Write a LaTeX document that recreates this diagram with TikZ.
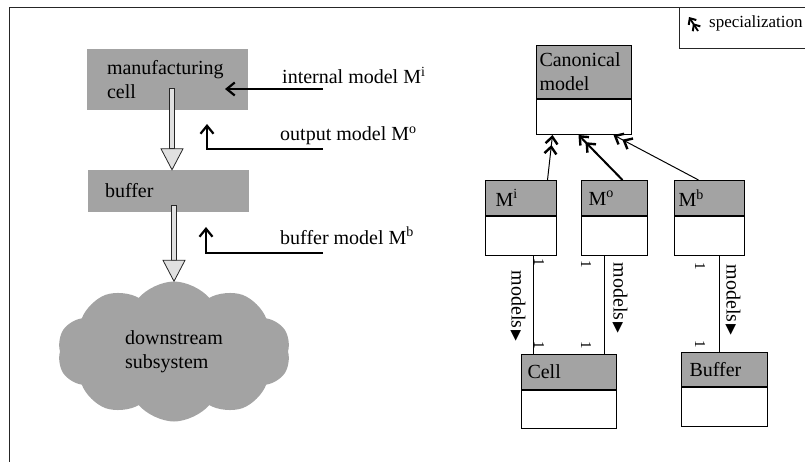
\documentclass[tikz,border=0pt]{standalone}
\usepackage{fontspec}
\setmainfont{Liberation Serif}
\newfontfamily\symfont{DejaVu Sans}
\usetikzlibrary{arrows.meta,shapes.symbols,calc}

\definecolor{boxgray}{RGB}{163,163,163}
\definecolor{shaftgray}{RGB}{224,224,224}

% reading-direction marker placed after an association name
\newcommand{\readdir}{\kern2pt{\symfont\fontsize{14}{14}\selectfont\raisebox{0.5pt}{▶}}}

% broad hollow flow arrow: shaft from #1 down to the head, head tip at #2
\newcommand{\flowarrow}[2]{%
  \coordinate (fa-s) at (#1);
  \coordinate (fa-t) at (#2);
  \draw[hollow] ($(fa-s)+(-2.5,0)$) rectangle ($(fa-s |- fa-t)+(2.5,-21)$);
  \draw[hollow] ($(fa-t)+(-11,-21)$) -- ($(fa-t)+(11,-21)$) -- (fa-t) -- cycle;
}

\tikzset{
  txt/.style={font=\fontsize{20}{24}\selectfont, inner sep=0pt},
  frameline/.style={draw=black!85, line width=1pt},
  flowbox/.style={txt, fill=boxgray, align=left, minimum height=#1},
  hollow/.style={draw=black!85, fill=shaftgray, line width=0.8pt, line join=miter},
  modelarrow/.style={draw=black, line width=1.1pt,
    -{Straight Barb[length=8pt,width=13pt,line width=2.2pt]}},
  classhead/.style={txt, draw, fill=boxgray, line width=1pt, anchor=north west, align=left},
  classbody/.style={draw, fill=white, line width=1pt, anchor=north, inner sep=0pt},
  assoc/.style={draw, line width=1pt},
  specarrow/.style={draw, line width=1pt,
    -{Straight Barb[length=7pt,width=12pt,line width=2.4pt,sep=0pt]Straight Barb[length=7pt,width=12pt,line width=2.4pt]}},
  mult/.style={font=\fontsize{15}{15}\selectfont, rotate=-90, inner sep=0pt},
  rolename/.style={txt, rotate=-90},
}

\begin{document}
\begin{tikzpicture}[x=1pt,y=-1pt]
\useasboundingbox (0,0) rectangle (805,462);

% outer frame and legend box
\draw[frameline] (9,462) -- (9,8) -- (805,8);
\draw[frameline] (679,8) -- (679,49) -- (805,49);
\coordinate (lgS) at (698,31);
\coordinate (lgT) at (689,17);
\draw[line width=1.8pt,
  -{Straight Barb[length=5pt,width=9pt,line width=2pt,sep=0pt]Straight Barb[length=5pt,width=9pt,line width=2pt]}]
  (lgS) -- (lgT);
\node[anchor=base west, font=\fontsize{17}{20}\selectfont, inner sep=0pt] (lgtext) at (709,28) {specialization};

% ---------------- physical system ----------------
\node[flowbox=61pt, minimum width=161pt, text width=121pt, inner xsep=20pt] (cell) at (167.5,79.5) {manufacturing\\cell};
\node[flowbox=42pt, minimum width=161pt, text width=127pt, inner xsep=17pt] (buf) at (168.5,191) {buffer};
\node[cloud, cloud puffs=10, cloud puff arc=100, cloud ignores aspect, fill=boxgray,
  minimum width=233pt, minimum height=140pt, txt, align=left] (down) at (174,351.5) {downstream\\subsystem};

\flowarrow{[xshift=4pt,yshift=22pt]cell.south}{[xshift=3.5pt]buf.north}
\flowarrow{[xshift=5pt,yshift=7pt]buf.south}{down.north}

% model annotations
\node[txt, anchor=base west] (imlab) at (282,84) {internal model M\textsuperscript{i}};
\node[txt, anchor=base west] (omlab) at (280,141) {output model M\textsuperscript{o}};
\node[txt, anchor=base west] (bmlab) at (280,244) {buffer model M\textsuperscript{b}};

\coordinate (imS) at (323,89);  \coordinate (imT) at (225,89);
\coordinate (omS) at (323,149); \coordinate (omT) at (207,124);
\coordinate (bmS) at (323,253); \coordinate (bmT) at (206,227);
\draw[modelarrow] (imS) -- (imT);
\draw[modelarrow] (omS) -| (omT);
\draw[modelarrow] (bmS) -| (bmT);

% ---------------- class diagram ----------------
\node[classhead, minimum width=95pt, minimum height=53pt, text width=89pt, inner xsep=3pt] (canH) at (536,45) {Canonical\\model};
\node[classbody, minimum width=95pt, minimum height=35pt] (canB) at (canH.south) {};

\node[classhead, minimum width=71pt, minimum height=35pt, text width=51pt, inner xsep=10pt] (miH) at (485,180) {M\textsuperscript{i}};
\node[classbody, minimum width=71pt, minimum height=39pt] (miB) at (miH.south) {};

\node[classhead, minimum width=66pt, minimum height=35pt, text width=52pt, inner xsep=7pt] (moH) at (581,180) {M\textsuperscript{o}};
\node[classbody, minimum width=66pt, minimum height=39pt] (moB) at (moH.south) {};

\node[classhead, minimum width=70pt, minimum height=35pt, text width=62pt, inner xsep=4pt] (mbH) at (674,180) {M\textsuperscript{b}};
\node[classbody, minimum width=70pt, minimum height=39pt] (mbB) at (mbH.south) {};

\node[classhead, minimum width=95pt, minimum height=35pt, text width=83pt, inner xsep=6pt] (cellH) at (521,354) {Cell};
\node[classbody, minimum width=95pt, minimum height=38pt] (cellB) at (cellH.south) {};

\node[classhead, minimum width=86pt, minimum height=34pt, text width=70pt, inner xsep=8pt] (bufH) at (681,352) {Buffer};
\node[classbody, minimum width=86pt, minimum height=39pt] (bufB) at (bufH.south) {};

% specializations
\draw[specarrow] ([xshift=26.5pt]miH.north) -- ([xshift=-31.5pt]canB.south);
\draw[specarrow, line width=2pt] ([xshift=8pt]moH.north) -- ([xshift=-5.5pt]canB.south);
\draw[specarrow] ([xshift=-11pt]mbH.north) -- ([xshift=29.5pt]canB.south);

% "models" associations
\draw[assoc] ([xshift=12.5pt]miB.south) -- ([xshift=12.5pt]miB.south |- cellH.north);
\draw[assoc] ([xshift=-10pt]moB.south) -- ([xshift=-10pt]moB.south |- cellH.north);
\draw[assoc] ([xshift=10pt]mbB.south) -- ([xshift=10pt]mbB.south |- bufH.north);

\node[mult] (m1a) at (539,262) {1};
\node[mult] (m1b) at (539,345) {1};
\node[mult] (m2a) at (586,264) {1};
\node[mult] (m2b) at (586,345) {1};
\node[mult] (m3a) at (700,266) {1};
\node[mult] (m3b) at (700,344) {1};

\node[rolename] (r1) at (518,306) {models\readdir};
\node[rolename] (r2) at (620,298) {models\readdir};
\node[rolename] (r3) at (733,300) {models\readdir};
\end{tikzpicture}
\end{document}
